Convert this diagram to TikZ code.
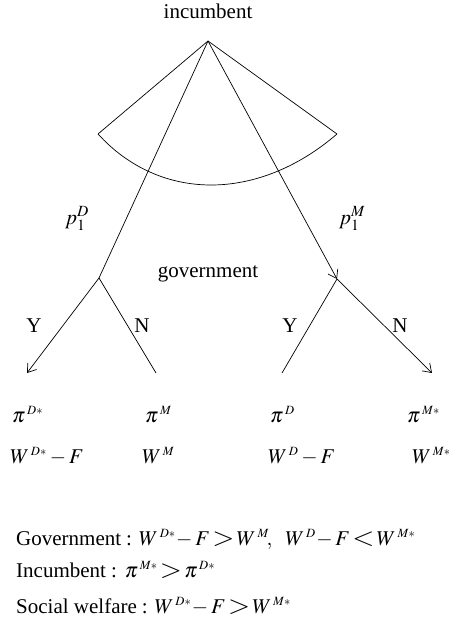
\documentclass[tikz,border=0pt]{standalone}
\usepackage{mathptmx}
\usepackage{fontspec}
\setmainfont{Liberation Serif}
\usetikzlibrary{arrows.meta,positioning}

% small raised labels and wide relations as in the source
\newcommand{\payup}[1]{^{\,\scriptscriptstyle #1}}
\newcommand{\wgt}{\mathrel{\scalebox{1.35}[1.2]{$>$}}}
\newcommand{\wlt}{\mathrel{\scalebox{1.35}[1.2]{$<$}}}

\begin{document}
\begin{tikzpicture}[x=1pt, y=-1pt,
  lbl/.style={font=\fontsize{21}{25}\selectfont, inner sep=0pt, anchor=base},
  payoff/.style={lbl, anchor=base west},
  cond/.style={lbl, anchor=base west},
  branch/.style={line width=0.7pt},
  arr/.style={branch, -{Straight Barb[length=8pt, width=11pt]}}
]
  \useasboundingbox (0,0) rectangle (449,623);

  % first mover and its cone of choices
  \node[lbl] (incumbent) at (208,19) {incumbent};
  \coordinate (root) at (208,41);
  \coordinate (coneL) at (98,134);
  \coordinate (coneR) at (337,134);
  \draw[branch] (coneL) -- (root) -- (coneR);
  \draw[branch] (coneL) .. controls (160,202) and (258,202) .. (coneR);

  % government nodes
  \coordinate (govL) at (99,278);
  \coordinate (govR) at (337,279);
  \draw[branch] (root) -- (govL);
  \draw[arr] (root) -- (govR);
  \node[lbl] (pD) at (77,224) {$p_1^D$};
  \node[lbl] (pM) at (352,224) {$p_1^M$};
  \node[lbl] (government) at (208,277) {government};

  % government choices
  \coordinate (yesL) at (27,373);
  \coordinate (noL) at (156,373);
  \coordinate (yesR) at (282,373);
  \coordinate (noR) at (432,373);
  \draw[arr] (govL) -- (yesL);
  \draw[branch] (govL) -- (noL);
  \draw[branch] (govR) -- (yesR);
  \draw[arr] (govR) -- (noR);
  \node[lbl] (yL) at (34,332) {Y};
  \node[lbl] (nL) at (142,332) {N};
  \node[lbl] (yR) at (290,332) {Y};
  \node[lbl] (nR) at (400,332) {N};

  % payoffs
  \node[payoff] (piDs) at (12,422) {$\pi\payup{D*}$};
  \node[payoff] (wDs) at (10,463) {$W\payup{D*}-F$};
  \node[payoff] (piM) at (145,422) {$\pi\payup{M}$};
  \node[payoff] (wM) at (142,463) {$W\payup{M}$};
  \node[payoff] (piD) at (270,422) {$\pi\payup{D}$};
  \node[payoff] (wD) at (268,463) {$W\payup{D}-F$};
  \node[payoff] (piMs) at (407,422) {$\pi\payup{M*}$};
  \node[payoff] (wMs) at (412,463) {$W\payup{M*}$};

  % conditions
  \node[cond] (condGov) at (16,545) {Government\hspace{5pt}:\hspace{7pt}$W\payup{D*}\!-F\!\wgt\! W\payup{M}\!,\ \ W\payup{D}\!-F\!\wlt\! W\payup{M*}$};
  \node[cond] (condInc) at (16,577) {Incumbent\hspace{5pt}:\hspace{8pt}$\pi\payup{M*}\!\wgt\!\pi\payup{D*}$};
  \node[cond] (condSoc) at (16,613) {Social welfare\hspace{5pt}:\hspace{7pt}$W\payup{D*}\!-F\!\wgt\! W\payup{M*}$};
\end{tikzpicture}
\end{document}
